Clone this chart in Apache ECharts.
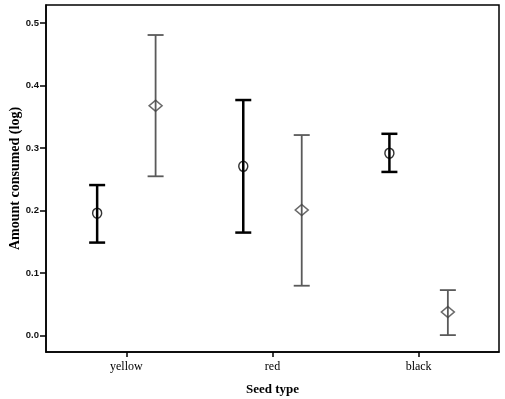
<!DOCTYPE html>
<html>
<head>
<meta charset="utf-8">
<script src="https://cdn.jsdelivr.net/npm/echarts@6/dist/echarts.min.js"></script>
<style>
  html, body { margin: 0; padding: 0; background: #fff; }
  #chart { width: 505px; height: 399px; }
</style>
</head>
<body>
<div id="chart"></div>
<script>
// seed types, placed at x = 1, 2, 3
var categories = ['yellow', 'red', 'black'];
var yTicks = [0, 0.1, 0.2, 0.3, 0.4, 0.5];

// circle group (black)
var circleMean = [0.196, 0.271, 0.292];
var circleLow  = [0.149, 0.165, 0.262];
var circleHigh = [0.241, 0.377, 0.323];

// diamond group (grey)
var diamondMean = [0.368, 0.201, 0.038];
var diamondLow  = [0.255, 0.080, 0.001];
var diamondHigh = [0.481, 0.321, 0.073];

var offset = 0.2;

function pos(i, shift) { return i + 1 + shift; }

function errorData(mean, low, high, shift) {
  return mean.map(function (m, i) { return [pos(i, shift), low[i], high[i]]; });
}
function pointData(mean, shift) {
  return mean.map(function (m, i) { return [pos(i, shift), m]; });
}

function errorBar(color, width) {
  return function (params, api) {
    var top = api.coord([api.value(0), api.value(2)]);
    var bot = api.coord([api.value(0), api.value(1)]);
    var half = 8;
    var style = { stroke: color, lineWidth: width, fill: null };
    return {
      type: 'group',
      children: [
        { type: 'line', shape: { x1: top[0], y1: top[1], x2: bot[0], y2: bot[1] }, style: style },
        { type: 'line', shape: { x1: top[0] - half, y1: top[1], x2: top[0] + half, y2: top[1] }, style: style },
        { type: 'line', shape: { x1: bot[0] - half, y1: bot[1], x2: bot[0] + half, y2: bot[1] }, style: style }
      ]
    };
  };
}

var chart = echarts.init(document.getElementById('chart'));
var serif = '"Liberation Serif", "DejaVu Serif", serif';

chart.setOption({
  animation: false,
  grid: {
    left: 46, right: 6, top: 5, bottom: 47,
    outerBoundsMode: 'none',
    containLabel: false,
    show: true, borderColor: '#000', borderWidth: 1.5, backgroundColor: '#fff'
  },
  xAxis: {
    type: 'value',
    min: 0.45, max: 3.55,
    name: 'Seed type',
    nameLocation: 'middle',
    nameGap: 31,
    nameMoveOverlap: false,
    nameTextStyle: { fontFamily: serif, fontWeight: 'bold', fontSize: 13, color: '#000' },
    splitLine: { show: false },
    axisLine: { show: true, onZero: false, lineStyle: { color: '#000', width: 1.5 } },
    axisTick: { show: true, customValues: [1, 2, 3], length: 5, lineStyle: { color: '#000', width: 1.5 } },
    axisLabel: {
      customValues: [1, 2, 3],
      formatter: function (v) { return categories[Math.round(v) - 1]; },
      fontFamily: serif, fontSize: 12, color: '#000', margin: 9
    }
  },
  yAxis: {
    type: 'value',
    min: -0.026, max: 0.529,
    name: 'Amount consumed (log)',
    nameLocation: 'middle',
    nameGap: 24,
    nameMoveOverlap: false,
    nameTextStyle: { fontFamily: serif, fontWeight: 'bold', fontSize: 14, color: '#000' },
    splitLine: { show: false },
    axisLine: { show: true, lineStyle: { color: '#000', width: 1.5 } },
    axisTick: { show: true, customValues: yTicks, length: 6, lineStyle: { color: '#000', width: 1.5 } },
    axisLabel: {
      customValues: yTicks,
      formatter: function (v) { return v.toFixed(1); },
      fontFamily: '"Liberation Sans", sans-serif', fontWeight: 'bold', fontSize: 9.5, color: '#111', margin: 7
    }
  },
  series: [
    {
      type: 'custom',
      renderItem: errorBar('#000', 2.5),
      data: errorData(circleMean, circleLow, circleHigh, -offset),
      z: 2
    },
    {
      type: 'custom',
      renderItem: errorBar('#5a5a5a', 1.8),
      data: errorData(diamondMean, diamondLow, diamondHigh, offset),
      z: 2
    },
    {
      type: 'scatter',
      symbol: 'circle',
      symbolSize: [9, 10],
      itemStyle: { color: 'rgba(0,0,0,0)', borderColor: '#000', borderWidth: 1.5 },
      data: pointData(circleMean, -offset),
      z: 3
    },
    {
      type: 'scatter',
      symbol: 'diamond',
      symbolSize: [13, 11],
      itemStyle: { color: 'rgba(0,0,0,0)', borderColor: '#444', borderWidth: 1.5 },
      data: pointData(diamondMean, offset),
      z: 3
    }
  ]
});
</script>
</body>
</html>
